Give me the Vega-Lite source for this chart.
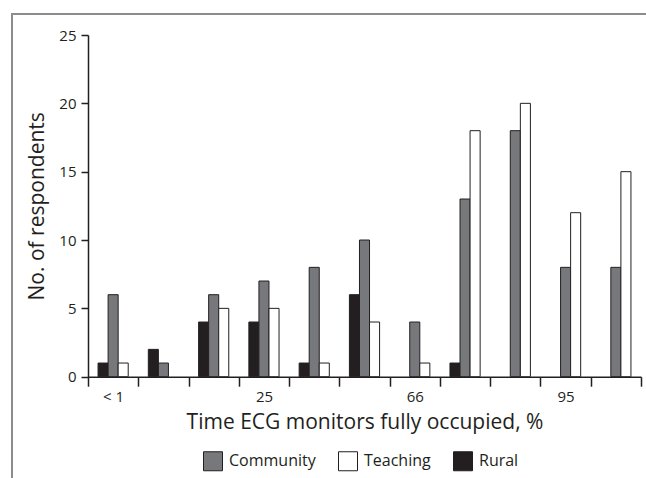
{
  "$schema": "https://vega.github.io/schema/vega-lite/v6.json",
  "width": 700,
  "height": 520,
  "autosize": {"type": "none"},
  "padding": {"left": 12, "top": 14, "right": -66, "bottom": -56},
  "background": "#ffffff",
  "config": {
    "font": "Open Sans",
    "view": {"stroke": "#8c8c8c", "strokeWidth": 2},
    "axis": {
      "grid": false,
      "domainColor": "#231f20",
      "domainWidth": 1.5,
      "tickColor": "#231f20",
      "tickWidth": 1.5,
      "labelColor": "#231f20",
      "titleColor": "#231f20",
      "labelFontSize": 15,
      "titleFontSize": 21,
      "titleFontWeight": "normal"
    },
    "legend": {"labelColor": "#231f20"}
  },
  "data": {
    "values": [
      {"group": 1, "hospital": "Rural", "count": 1},
      {"group": 1, "hospital": "Community", "count": 6},
      {"group": 1, "hospital": "Teaching", "count": 1},
      {"group": 2, "hospital": "Rural", "count": 2},
      {"group": 2, "hospital": "Community", "count": 1},
      {"group": 3, "hospital": "Rural", "count": 4},
      {"group": 3, "hospital": "Community", "count": 6},
      {"group": 3, "hospital": "Teaching", "count": 5},
      {"group": 4, "hospital": "Rural", "count": 4},
      {"group": 4, "hospital": "Community", "count": 7},
      {"group": 4, "hospital": "Teaching", "count": 5},
      {"group": 5, "hospital": "Rural", "count": 1},
      {"group": 5, "hospital": "Community", "count": 8},
      {"group": 5, "hospital": "Teaching", "count": 1},
      {"group": 6, "hospital": "Rural", "count": 6},
      {"group": 6, "hospital": "Community", "count": 10},
      {"group": 6, "hospital": "Teaching", "count": 4},
      {"group": 7, "hospital": "Community", "count": 4},
      {"group": 7, "hospital": "Teaching", "count": 1},
      {"group": 8, "hospital": "Rural", "count": 1},
      {"group": 8, "hospital": "Community", "count": 13},
      {"group": 8, "hospital": "Teaching", "count": 18},
      {"group": 9, "hospital": "Community", "count": 18},
      {"group": 9, "hospital": "Teaching", "count": 20},
      {"group": 10, "hospital": "Community", "count": 8},
      {"group": 10, "hospital": "Teaching", "count": 12},
      {"group": 11, "hospital": "Community", "count": 8},
      {"group": 11, "hospital": "Teaching", "count": 15}
    ]
  },
  "mark": {"type": "bar", "stroke": "#231f20", "strokeWidth": 1},
  "encoding": {
    "x": {
      "field": "group",
      "type": "ordinal",
      "scale": {"range": [76, 629], "paddingInner": 0, "paddingOuter": 0},
      "axis": {
        "title": "Time ECG monitors fully occupied, %",
        "orient": "bottom",
        "offset": -157.3,
        "tickBand": "extent",
        "tickSize": 9.5,
        "labelAngle": 0,
        "labelPadding": 3,
        "titlePadding": 7,
        "labelExpr": "datum.value == 1 ? '< 1' : datum.value == 4 ? '25' : datum.value == 7 ? '66' : datum.value == 10 ? '95' : ''"
      }
    },
    "xOffset": {
      "field": "hospital",
      "scale": {"domain": ["Rural", "Community", "Teaching"], "paddingInner": 0, "paddingOuter": 1}
    },
    "y": {
      "field": "count",
      "type": "quantitative",
      "scale": {"domain": [0, 25], "nice": false, "range": [362.7, 21]},
      "axis": {
        "title": "No. of respondents",
        "offset": -76,
        "values": [0, 5, 10, 15, 20, 25],
        "tickSize": 7,
        "labelPadding": 5,
        "titlePadding": 11
      }
    },
    "fill": {
      "field": "hospital",
      "type": "nominal",
      "scale": {"domain": ["Community", "Teaching", "Rural"], "range": ["#77787b", "#ffffff", "#231f20"]},
      "legend": {
        "orient": "none",
        "legendX": 191,
        "legendY": 437,
        "direction": "horizontal",
        "title": null,
        "symbolType": "square",
        "symbolSize": 361,
        "symbolStrokeColor": "#231f20",
        "symbolStrokeWidth": 1,
        "symbolOpacity": 1,
        "labelFontSize": 16,
        "labelOffset": 6,
        "columnPadding": 20
      }
    }
  }
}
